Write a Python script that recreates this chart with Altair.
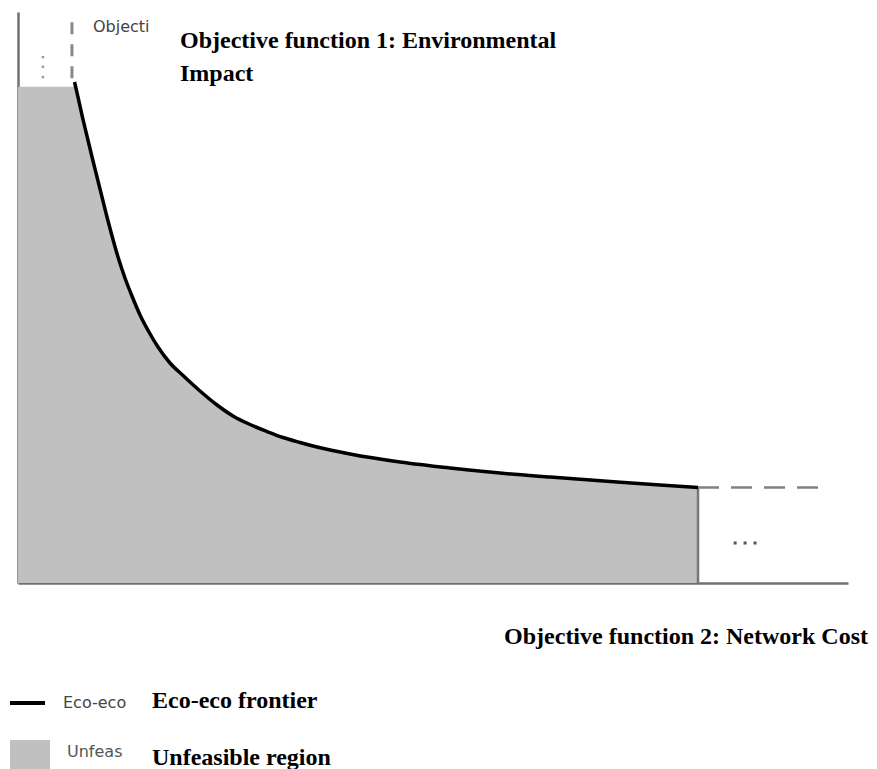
import altair as alt
import pandas as pd

# ---- data (cost / impact on a 0-100 schematic scale) ----
frontier_cost = [6.81, 7.23, 7.71, 8.31, 8.92, 9.52, 10.12, 10.72, 11.33, 12.05, 12.89,
                 13.73, 14.70, 15.78, 16.87, 18.31, 19.88, 21.93, 23.98, 25.90, 27.95,
                 30.00, 31.93, 33.98, 36.02, 40.00, 46.02, 52.05, 58.07, 64.10, 72.17,
                 77.35, 81.93]
frontier_impact = [87.74, 85.11, 81.96, 78.28, 74.61, 71.10, 67.60, 64.10, 60.77, 57.09,
                   53.42, 50.26, 46.94, 43.96, 41.33, 38.53, 36.34, 33.63, 31.17, 29.25,
                   27.76, 26.53, 25.48, 24.61, 23.82, 22.59, 21.19, 20.14, 19.26, 18.56,
                   17.69, 17.16, 16.73]
region_top = 86.9          # top of the unfeasible region (left part)
dash_v_cost = 6.5          # dashed vertical extension position
upper_end = 98.2           # end of dashed vertical extension
right_end = 97.0           # end of dashed horizontal extension
hdots_cost = [86.4, 87.6, 88.8]
hdots_impact = [7.0, 7.0, 7.0]
vdots_cost = [3.0, 3.0, 3.0]
vdots_impact = [92.1, 90.4, 88.6]

y_title = ["Objective function 1: Environmental", "Impact"]
x_title = "Objective function 2: Network Cost"
legend_labels = ["Eco-eco frontier", "Unfeasible region"]
stub_texts = ["Objecti", "Eco-eco", "Unfeas"]

SERIF = "Liberation Serif"
SANS = "DejaVu Sans"

frontier = pd.DataFrame({"cost": frontier_cost, "impact": frontier_impact})
region = pd.DataFrame({
    "cost": [0.0, frontier_cost[0]] + frontier_cost[1:],
    "impact": [region_top, region_top] + frontier_impact[1:],
})

xs = alt.Scale(domain=[0, 100], nice=False, zero=False)
ys = alt.Scale(domain=[0, 100], nice=False, zero=False)
ax = dict(labels=False, ticks=False, grid=False, title=None,
          domainColor="#707070", domainWidth=2.5)

info = pd.DataFrame({"c": [frontier_cost[-1]], "i": [frontier_impact[-1]],
                     "cv": [dash_v_cost], "top": [region_top],
                     "up": [upper_end], "right": [right_end]})

area = alt.Chart(region).mark_area(color="#c0c0c0", interpolate="linear").encode(
    x=alt.X("cost:Q", scale=xs, axis=alt.Axis(**ax)),
    y=alt.Y("impact:Q", scale=ys, axis=alt.Axis(**ax)),
    y2=alt.datum(0),
)

line = alt.Chart(frontier).mark_line(color="black", strokeWidth=3.5,
                                     interpolate="monotone").encode(
    x=alt.X("cost:Q", scale=xs),
    y=alt.Y("impact:Q", scale=ys),
)

right_edge = alt.Chart(info).mark_rule(color="#777777", strokeWidth=2.5).encode(
    x=alt.X("c:Q", scale=xs), y=alt.Y("i:Q", scale=ys), y2=alt.datum(0))

dash_v = alt.Chart(info).mark_rule(color="#888888", strokeWidth=3,
                                   strokeDash=[12, 10]).encode(
    x=alt.X("cv:Q", scale=xs), y=alt.Y("up:Q", scale=ys), y2="top:Q")

dash_h = alt.Chart(info).mark_rule(color="#808080", strokeWidth=2.5,
                                   strokeDash=[21, 12]).encode(
    x=alt.X("c:Q", scale=xs), x2="right:Q", y=alt.Y("i:Q", scale=ys))

hdots = alt.Chart(pd.DataFrame({"cost": hdots_cost, "impact": hdots_impact})).mark_square(
    size=9, color="#555555", opacity=1).encode(
    x=alt.X("cost:Q", scale=xs), y=alt.Y("impact:Q", scale=ys))

vdots = alt.Chart(pd.DataFrame({"cost": vdots_cost, "impact": vdots_impact})).mark_square(
    size=6, color="#999999", opacity=1).encode(
    x=alt.X("cost:Q", scale=xs), y=alt.Y("impact:Q", scale=ys))

one = pd.DataFrame({"k": [0]})


def txt(text, x, y, size, font, bold=False, color="black", align="left",
        baseline="alphabetic", line_height=None):
    kw = dict(text=text, font=font, fontSize=size, color=color, align=align,
              baseline=baseline, fontWeight="bold" if bold else "normal")
    if line_height:
        kw["lineHeight"] = line_height
    return alt.Chart(one).mark_text(**kw).encode(x=alt.value(x), y=alt.value(y))


ytitle = txt(y_title, 162, 36, 24, SERIF, bold=True, line_height=33)
xtitle = txt(x_title, 850, 632, 24, SERIF, bold=True, align="right")
stub1 = txt(stub_texts[0], 75, 15, 16, SANS, color="#444444", baseline="middle")
stub2 = txt(stub_texts[1], 45, 691, 16, SANS, color="#444444", baseline="middle")
stub3 = txt(stub_texts[2], 49, 740, 16, SANS, color="#555555", baseline="middle")
leg1 = txt(legend_labels[0], 134, 696, 24, SERIF, bold=True)
leg2 = txt(legend_labels[1], 134, 753, 24, SERIF, bold=True)

leg_line = alt.Chart(one).mark_rule(color="black", strokeWidth=4).encode(
    x=alt.value(-8), x2=alt.value(27), y=alt.value(691))
leg_box = alt.Chart(one).mark_rect(color="#c0c0c0").encode(
    x=alt.value(-8), x2=alt.value(32), y=alt.value(728), y2=alt.value(770))

chart = alt.layer(
    area, right_edge, dash_v, dash_h, line, hdots, vdots,
    ytitle, xtitle, stub1, stub2, stub3, leg_line, leg_box, leg1, leg2,
).properties(
    width=830, height=571,
    padding={"left": 10, "top": 4, "right": 21, "bottom": 200},
    autosize="none",
).configure_view(stroke=None)

chart.save("out.html", embed_options={"renderer": "svg", "actions": False})
